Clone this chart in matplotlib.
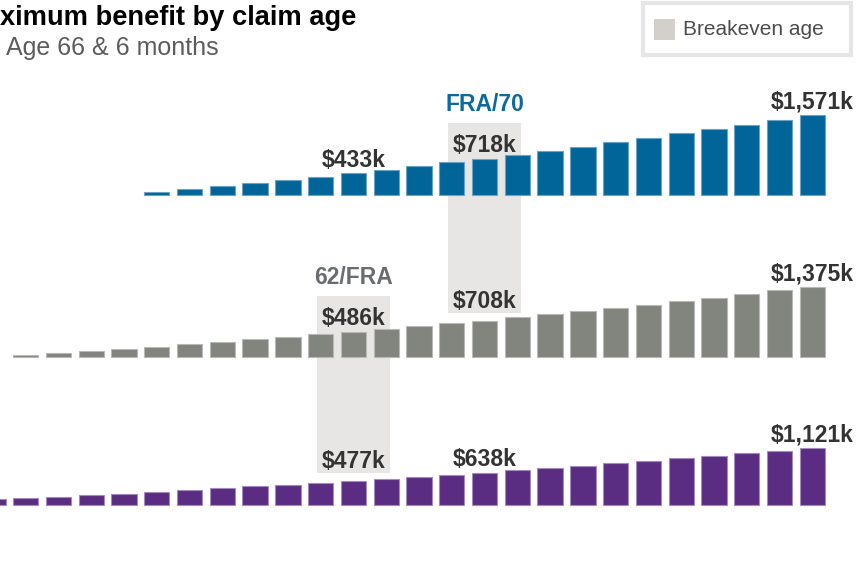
import matplotlib.pyplot as plt
from matplotlib.patches import Rectangle

plt.rcParams['font.family'] = ['Liberation Sans', 'DejaVu Sans']

# cumulative benefit ($k) at each age, by claiming age
ages = list(range(62, 91))
claim_70 = [59, 124, 183, 242, 306, 365, 433, 503, 575, 654, 718, 797, 876,
            954, 1041, 1125, 1218, 1296, 1387, 1485, 1571]
claim_fra = [27, 67, 110, 155, 200, 247, 295, 343, 392, 440, 486, 544, 600,
             655, 708, 770, 830, 892, 956, 1021, 1088, 1159, 1231, 1304, 1375]
claim_62 = [30, 58, 88, 118, 143, 169, 202, 228, 261, 300, 334, 373, 405,
            444, 477, 522, 562, 601, 638, 687, 733, 772, 825, 870, 923, 968,
            1021, 1072, 1121]
start_ages = [70, 66, 62]
label_ages = [76, 80, 90]

# breakeven boxes: name, age, upper row, lower row
breakevens = [("FRA/70", 80, 0, 1), ("62/FRA", 76, 1, 2)]

series = [claim_70, claim_fra, claim_62]
colors = ['#02659a', '#82847e', '#5a2c82']
edges = ['#6aa3c6', '#b9bab6', '#a48bbf']
name_colors = {'FRA/70': '#0f6a9c', '62/FRA': '#6a6d70'}

W, H = 856, 562
K = 19.64            # $k per pixel
baselines = [7202, 4032, 1114]

fig = plt.figure(figsize=(W / 100, H / 100), dpi=100)
ax = fig.add_axes([0, 0, 1, 1])
ax.set_xlim(65.216, 91.333)
ax.set_ylim(0, H * K)
ax.axis('off')

def value_at(row, age):
    return series[row][age - start_ages[row]]

lower_labels = {(low, age) for _, age, _, low in breakevens}

for row, vals in enumerate(series):
    xs = list(range(start_ages[row], 91))
    ax.bar(xs, vals, width=0.772, bottom=baselines[row], color=colors[row],
           edgecolor=edges[row], linewidth=0.8, zorder=2)
    for age in label_ages:
        v = value_at(row, age)
        gap = 12.5 if (row, age) in lower_labels else 6.5
        ax.annotate(f"${v:,}k", (age, baselines[row] + v), xytext=(0, gap),
                    textcoords='offset pixels', ha='center', va='baseline',
                    fontsize=16.5, fontweight='bold', color='#333333', zorder=3)

for name, age, up, low in breakevens:
    top = baselines[up] + value_at(up, age) + 35.5 * K
    bottom = baselines[low] + value_at(low, age) + 7.8 * K
    ax.add_patch(Rectangle((age - 1.114, bottom), 2.228, top - bottom,
                           facecolor='#e7e6e4', edgecolor='none', zorder=0))
    ax.text(age, top + 12.5 * K, name, ha='center', va='baseline',
            fontsize=16.5, fontweight='bold', color=name_colors[name])

# title, as visible in the cropped source
fig.text(0.5 / W, 1 - 25 / H, "ximum benefit by claim age", fontsize=19.6,
         fontweight='bold', color='black', va='baseline', ha='left')
fig.text(6.5 / W, 1 - 55 / H, "Age 66 & 6 months", fontsize=18,
         color='#5b5c5e', va='baseline', ha='left')

# legend box
fig.add_artist(Rectangle((643 / W, 1 - 55 / H), 208 / W, 52 / H,
                         transform=fig.transFigure, facecolor='white',
                         edgecolor='#e6e6e6', linewidth=3))
fig.add_artist(Rectangle((654 / W, 1 - 40 / H), 21 / W, 21 / H,
                         transform=fig.transFigure, facecolor='#d3d0cc',
                         edgecolor='none'))
fig.text(683 / W, 1 - 29.5 / H, "Breakeven age", fontsize=15,
         color='#4d4d4d', va='center', ha='left')

fig.savefig('out.png', dpi=100)
